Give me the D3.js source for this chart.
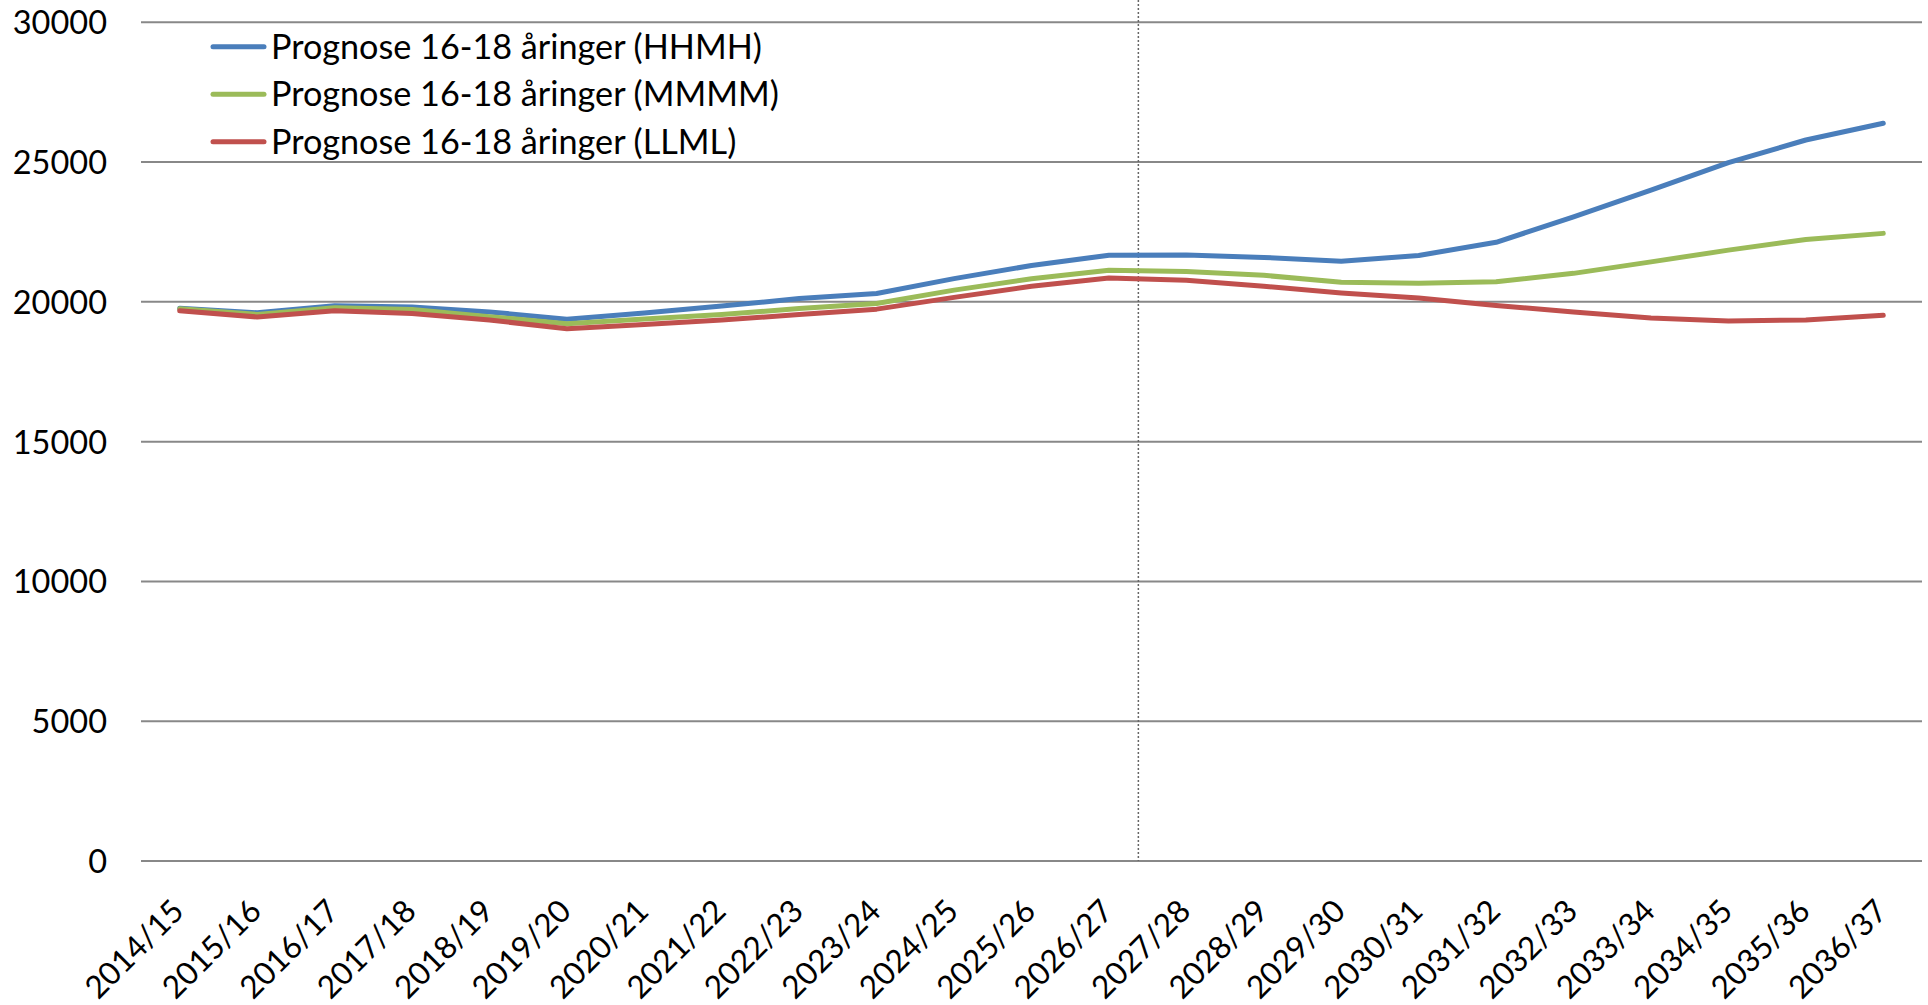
<!DOCTYPE html>
<html>
<head>
<meta charset="utf-8">
<script src="https://cdn.jsdelivr.net/npm/d3@7/dist/d3.min.js"></script>
<style>
  html, body { margin: 0; padding: 0; background: #fff; }
  svg { display: block; }
  text { font-family: Lato, "Open Sans", sans-serif; fill: #000; }
</style>
</head>
<body>
<svg id="chart" width="1928" height="1005"></svg>
<script>
// ---- data ----
const categories = ["2014/15","2015/16","2016/17","2017/18","2018/19","2019/20","2020/21","2021/22","2022/23","2023/24","2024/25","2025/26","2026/27","2027/28","2028/29","2029/30","2030/31","2031/32","2032/33","2033/34","2034/35","2035/36","2036/37"];
const seriesNames = ["Prognose 16-18 åringer (HHMH)", "Prognose 16-18 åringer (MMMM)", "Prognose 16-18 åringer (LLML)"];
const hhmh = [19770,19610,19860,19820,19640,19380,19600,19850,20120,20300,20830,21300,21670,21680,21590,21450,21660,22130,23040,24000,24980,25790,26390];
const mmmm = [19750,19550,19790,19730,19470,19220,19390,19550,19760,19940,20420,20830,21130,21090,20950,20700,20670,20720,21020,21430,21850,22230,22450];
const llml = [19680,19460,19680,19580,19350,19040,19190,19350,19550,19740,20160,20560,20850,20770,20560,20320,20140,19870,19640,19420,19320,19350,19520];
const yTicks = [0,5000,10000,15000,20000,25000,30000];
const dividerCategory = "2026/27";
const colors = ["#4a7ebb", "#9bbb59", "#c0504d"];

// ---- layout ----
const svg = d3.select("#chart");
const x = d3.scaleBand().domain(categories).range([141, 1922]).padding(0);
const y = d3.scaleLinear().domain([0, 30000]).range([861, 22.3]);
const cx = d => x(d) + x.bandwidth() / 2;

// gridlines
svg.append("g").selectAll("line").data(yTicks).join("line")
  .attr("x1", 141).attr("x2", 1922)
  .attr("y1", d => y(d)).attr("y2", d => y(d))
  .attr("stroke", "#888").attr("stroke-width", 2);

// y labels
svg.append("g").selectAll("text").data(yTicks).join("text")
  .attr("x", 107).attr("y", d => y(d) + 12)
  .attr("text-anchor", "end").attr("font-size", 32.5)
  .text(d => d);

// x labels
svg.append("g").selectAll("text").data(categories).join("text")
  .attr("transform", d => `translate(${cx(d) + 6},${913}) rotate(-45)`)
  .attr("text-anchor", "end").attr("font-size", 31.5)
  .text(d => d);

// divider dotted line
const dx = cx(dividerCategory) + x.bandwidth() * 0.38;
svg.append("line")
  .attr("x1", dx).attr("x2", dx).attr("y1", 0).attr("y2", y(0))
  .attr("stroke", "#666").attr("stroke-width", 1.5).attr("stroke-dasharray", "2,2");

// lines
const allSeries = [hhmh, mmmm, llml];
const line = d3.line().x((d, i) => cx(categories[i])).y(d => y(d));
svg.append("g").selectAll("path").data(allSeries).join("path")
  .attr("d", d => line(d))
  .attr("fill", "none")
  .attr("stroke", (d, i) => colors[i])
  .attr("stroke-width", 5)
  .attr("stroke-linejoin", "round")
  .attr("stroke-linecap", "round");

// legend
const legend = svg.append("g");
seriesNames.forEach((name, i) => {
  const ly = 46.7 + i * 47.5;
  legend.append("line")
    .attr("x1", 213).attr("x2", 264).attr("y1", ly).attr("y2", ly)
    .attr("stroke", colors[i]).attr("stroke-width", 5).attr("stroke-linecap", "round");
  legend.append("text")
    .attr("x", 271).attr("y", ly + 12).attr("font-size", 34.2)
    .text(name);
});
</script>
</body>
</html>
